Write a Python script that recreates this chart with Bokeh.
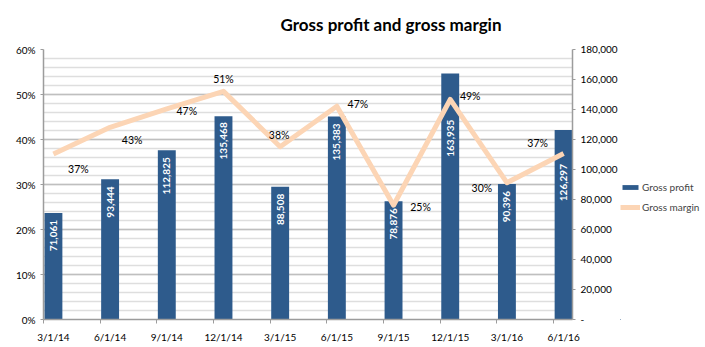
import math
from bokeh.plotting import figure
from bokeh.layouts import row
from bokeh.models import (Range1d, LinearAxis, FixedTicker, NumeralTickFormatter,
                          CustomJSTickFormatter, Legend, LegendItem, ColumnDataSource)
from bokeh.core.properties import value
from bokeh.embed import file_html
from bokeh.resources import INLINE

# ---- data ----
dates = ["3/1/14", "6/1/14", "9/1/14", "12/1/14", "3/1/15",
         "6/1/15", "9/1/15", "12/1/15", "3/1/16", "6/1/16"]
gross_profit = [71061, 93444, 112825, 135468, 88508, 135383, 78876, 163935, 90396, 126297]
gross_margin = [0.368, 0.427, 0.468, 0.507, 0.384, 0.474, 0.254, 0.489, 0.304, 0.369]
pct_ticks = [0, 0.1, 0.2, 0.3, 0.4, 0.5, 0.6]
gp_ticks = [0, 20000, 40000, 60000, 80000, 100000, 120000, 140000, 160000, 180000]
series_names = ["Gross profit", "Gross margin"]

# ---- styling ----
FONT = "Lato"
BAR_COLOR = "#2E5B8C"
LINE_COLOR = "#FCD5B5"
BAR_SHIFT = 0.175   # bar centre relative to the date tick (category units)
BAR_WIDTH = 0.316
# label offsets (screen px, dy positive = down)
m_dx = [25, 22, 20, 0, -1, 21, 27, 20, -25, -26]
m_dy = [15, 13, 2, -12, -12, -2, 2, -3, 5, -10]
b_dy = [7, 7, 7, 6, 7, 7, 7, 46, 7, 34]

idx = list(range(len(dates)))
xc = [i + BAR_SHIFT for i in idx]

src = ColumnDataSource(dict(
    x=xc, gp=gross_profit, gm=gross_margin,
    gp_lbl=[f"{v:,}" for v in gross_profit],
    gm_lbl=[f"{int(v * 100 + 0.5)}%" for v in gross_margin],
    dx=m_dx, dy=m_dy, bdy=b_dy,
))

p = figure(width=620, height=347, output_backend="svg", toolbar_location=None,
           x_range=Range1d(0, 9.332), y_range=Range1d(0, 0.6),
           min_border_left=43, min_border_right=46, min_border_top=49, min_border_bottom=28,
           outline_line_color=None, background_fill_color="white", border_fill_color="white")
p.title.text = "Gross profit and gross margin"
p.title.align = "left"
p.title.offset = 237
p.title.vertical_align = "top"
p.title.standoff = 26
p.title.text_font = FONT
p.title.text_font_style = "bold"
p.title.text_font_size = "17px"
p.title.text_color = "black"
p.extra_y_ranges = {"gp": Range1d(0, 180000)}

# axes
AX_COLOR = "#9C9C9C"
yl = p.yaxis[0]
yl.ticker = FixedTicker(ticks=pct_ticks, minor_ticks=[k * 0.02 for k in range(31)])
yl.formatter = NumeralTickFormatter(format="0%")
yl.axis_line_color = AX_COLOR
yl.axis_line_width = 1.5
yl.major_tick_line_color = AX_COLOR
yl.major_tick_out = 3
yl.major_tick_in = 0
yl.minor_tick_out = 0
yl.minor_tick_in = 0
yl.major_label_standoff = 5
yl.major_label_text_font = FONT
yl.major_label_text_font_size = "10px"
yl.major_label_text_color = "black"

yr = LinearAxis(y_range_name="gp", ticker=FixedTicker(ticks=gp_ticks),
                formatter=NumeralTickFormatter(format="0,0"),
                major_label_overrides={0: "-"})
yr.axis_line_color = AX_COLOR
yr.axis_line_width = 1.5
yr.major_tick_line_color = AX_COLOR
yr.major_tick_out = 3
yr.major_tick_in = 0
yr.minor_tick_out = 0
yr.minor_tick_in = 0
yr.major_label_standoff = 5
yr.major_label_text_font = FONT
yr.major_label_text_font_size = "10px"
yr.major_label_text_color = "black"
p.add_layout(yr, "right")

xa = p.xaxis[0]
xa.ticker = FixedTicker(ticks=xc, minor_ticks=idx)
xa.formatter = CustomJSTickFormatter(args=dict(labels=dates, shift=BAR_SHIFT),
                                     code="return labels[Math.round(tick - shift)];")
xa.axis_line_color = AX_COLOR
xa.axis_line_width = 1.5
xa.major_tick_out = 0
xa.major_tick_in = 0
xa.minor_tick_line_color = AX_COLOR
xa.minor_tick_out = 4
xa.minor_tick_in = 0
xa.major_label_standoff = 7
xa.major_label_text_font = FONT
xa.major_label_text_font_size = "10px"
xa.major_label_text_color = "black"

# grids
p.xgrid.grid_line_color = None
p.ygrid.grid_line_color = "#BFBFBF"
p.ygrid.grid_line_width = 1.5
p.ygrid.minor_grid_line_color = "#DEDEDE"
p.ygrid.minor_grid_line_width = 1.5

# bars
bars = p.vbar(x="x", top="gp", width=BAR_WIDTH, bottom=0, source=src, y_range_name="gp",
              fill_color=BAR_COLOR, line_color=None)

# line
line = p.line(x="x", y="gm", source=src, line_color=LINE_COLOR, line_width=5, line_join="round")

# bar labels
p.text(x="x", y="gp", text="gp_lbl", source=src, y_range_name="gp", angle=math.pi / 2,
       text_align="right", text_baseline="middle", y_offset="bdy",
       text_font=value(FONT), text_font_style="bold", text_font_size="10px", text_color="white")

# margin labels
p.text(x="x", y="gm", text="gm_lbl", source=src, x_offset="dx", y_offset="dy",
       text_align="center", text_baseline="middle",
       text_font=value(FONT), text_font_size="10.5px", text_color="black")

# ---- legend panel (separate small figure to the right; its ranges keep the
# series themselves out of view so only the legend shows) ----
lf = figure(width=85, height=347, output_backend="svg", toolbar_location=None,
            x_range=Range1d(50, 60), y_range=Range1d(1e6, 2e6),
            min_border_left=0, min_border_right=0, min_border_top=0, min_border_bottom=0,
            outline_line_color=None, background_fill_color="white", border_fill_color="white")
lf.axis.visible = False
lf.grid.visible = False
lf.title = None
lg_bar = lf.vbar(x="x", top="gp", width=BAR_WIDTH, source=src,
                 fill_color=BAR_COLOR, line_color=None)
lg_line = lf.line(x="x", y="gm", source=src, line_color=LINE_COLOR, line_width=5)
leg = Legend(items=[LegendItem(label=series_names[0], renderers=[lg_bar]),
                    LegendItem(label=series_names[1], renderers=[lg_line])],
             location=(0, 102), padding=0, margin=0, spacing=0,
             glyph_width=20, glyph_height=6, label_height=20, label_standoff=2,
             label_text_font=FONT, label_text_font_size="10px",
             border_line_color=None, background_fill_alpha=0)
lf.add_layout(leg)

open("out.html", "w").write(file_html(row(p, lf), INLINE))
